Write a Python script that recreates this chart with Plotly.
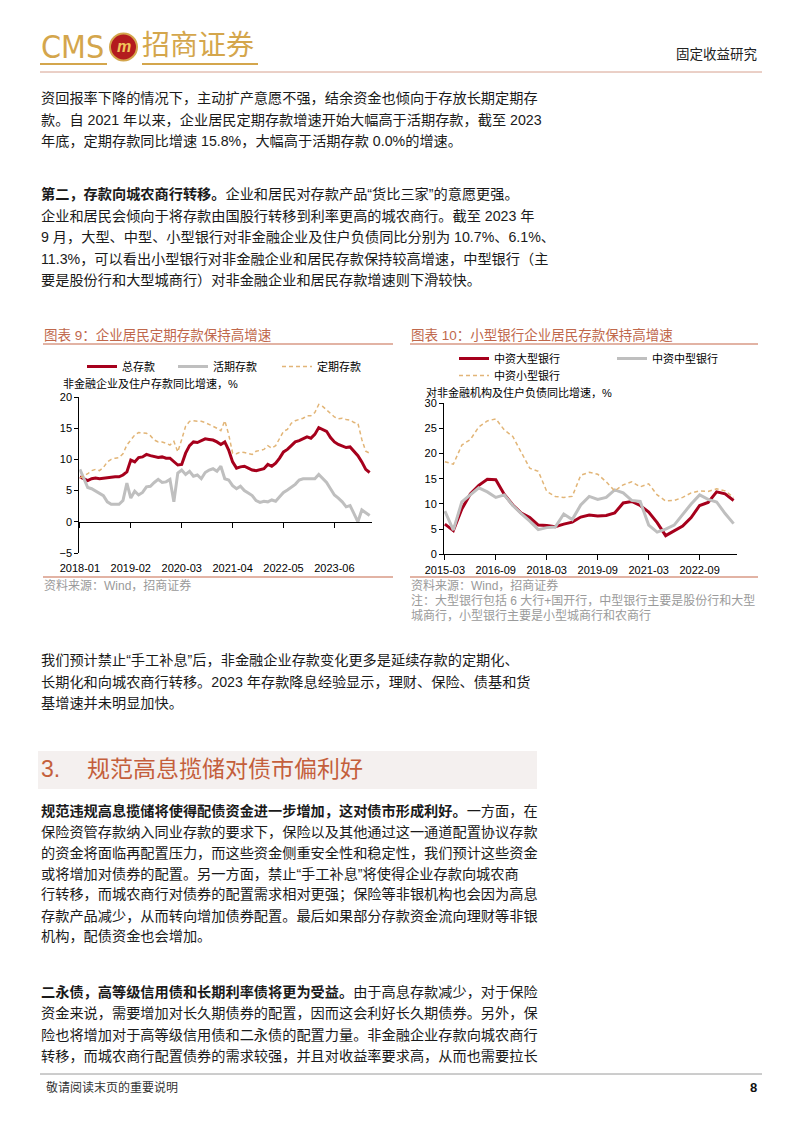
import plotly.graph_objects as go
import pandas as pd

W, H = 802, 1133

# ---------------- Chart 1 data (monthly, %) ----------------
months1 = pd.date_range("2018-01-01", periods=75, freq="MS").strftime("%Y-%m").tolist()
total_deposit = [7.2, 6.9, 6.6, 6.9, 7.0, 6.9, 7.0, 7.1, 7.1, 7.2,
                 7.2, 7.5, 8.0, 9.9, 9.6, 10.3, 10.4, 10.8, 10.6, 10.4,
                 10.3, 10.4, 10.2, 10.2, 9.7, 9.1, 9.2, 11.0, 12.2, 12.8,
                 12.7, 13.0, 13.3, 13.2, 13.1, 12.8, 12.4, 12.8, 11.5, 9.6,
                 8.6, 8.8, 8.9, 8.6, 8.3, 8.2, 8.3, 8.5, 9.2, 8.9,
                 9.4, 10.2, 11.2, 11.6, 12.2, 12.8, 13.0, 13.3, 13.6, 13.4,
                 14.0, 15.1, 14.8, 14.5, 13.5, 12.8, 12.4, 12.1, 11.9, 12.0,
                 11.3, 10.6, 9.6, 8.4, 7.9]
demand_deposit = [8.4, 6.9, 5.5, 5.3, 4.9, 4.6, 4.2, 3.2, 2.8, 2.8,
                  2.8, 3.4, 6.2, 3.8, 4.9, 4.3, 4.7, 5.6, 5.7, 6.3,
                  6.8, 6.3, 6.4, 6.8, 3.2, 7.8, 8.3, 7.6, 8.1, 7.3,
                  7.5, 6.9, 7.9, 8.3, 8.5, 8.1, 8.9, 6.9, 6.7, 5.8,
                  5.3, 5.7, 5.0, 4.6, 4.2, 3.4, 3.1, 3.3, 3.2, 3.5,
                  3.3, 4.0, 4.7, 5.1, 5.5, 6.0, 6.7, 6.9, 6.9, 6.9,
                  6.9, 7.6, 6.9, 6.3, 5.3, 4.3, 3.8, 3.2, 2.4, 2.6,
                  1.3, 0.0, 1.9, 1.5, 1.0]
time_deposit = [7.0, 7.3, 7.7, 8.2, 8.4, 8.2, 8.7, 9.6, 10.0, 10.2,
                10.3, 10.9, 12.3, 13.1, 13.9, 14.3, 14.3, 14.2, 13.8, 13.1,
                12.8, 12.8, 12.6, 12.3, 12.9, 11.2, 13.2, 15.3, 16.1, 16.2,
                16.1, 16.1, 15.9, 15.6, 15.4, 15.0, 14.6, 16.2, 14.0, 11.0,
                10.9, 11.2, 11.1, 11.0, 10.8, 11.3, 11.4, 11.6, 12.2, 11.8,
                12.2, 13.3, 14.5, 14.8, 15.8, 16.2, 16.4, 16.6, 17.0, 17.0,
                17.5, 18.8, 18.5, 17.9, 17.3, 16.8, 16.5, 16.6, 16.4, 16.3,
                15.9, 15.8, 13.2, 11.3, 11.0]
ticks1 = ["2018-01", "2019-02", "2020-03", "2021-04", "2022-05", "2023-06"]

# ---------------- Chart 2 data (quarterly, %) ----------------
quarters2 = pd.date_range("2015-03-01", periods=35, freq="3MS").strftime("%Y-%m").tolist()
large_bank = [6.0, 4.7, 9.0, 12.0, 13.7, 14.9, 14.8, 11.9, 9.8, 8.2,
              7.3, 5.8, 5.7, 5.5, 6.0, 6.4, 7.4, 7.8, 7.6, 7.7,
              8.2, 10.2, 10.5, 9.7, 8.4, 6.3, 3.7, 4.6, 5.6, 7.3,
              9.7, 10.3, 12.4, 12.0, 10.7]
medium_bank = [8.6, 4.8, 10.4, 11.9, 13.2, 12.4, 11.3, 11.8, 9.7, 8.1,
               6.6, 4.9, 5.3, 5.4, 8.0, 6.9, 9.8, 11.5, 10.9, 11.3,
               12.8, 12.2, 10.7, 10.5, 5.8, 4.4, 5.0, 5.8, 8.0, 10.0,
               11.8, 10.9, 10.4, 8.1, 6.1]
small_bank = [18.4, 17.9, 21.7, 22.8, 25.3, 26.5, 26.9, 24.7, 23.4, 20.2,
              17.1, 16.5, 12.5, 11.5, 11.3, 11.5, 15.7, 16.3, 15.9, 14.4,
              12.6, 13.8, 14.4, 13.4, 14.0, 11.8, 10.6, 10.7, 11.3, 12.2,
              12.6, 12.5, 13.0, 12.6, 11.3]
ticks2 = ["2015-03", "2016-09", "2018-03", "2019-09", "2021-03", "2022-09"]

# ---------------- helpers ----------------
def fx(p):
    return p / W

def fy(p):
    return 1 - p / H

SANS = "Liberation Sans, Noto Sans CJK SC, sans-serif"
RED = "#A6001C"
GRAY = "#BFBFBF"
GOLDLINE = "#E2B577"
TITLE_C = "#C0684C"
RULE_C = "#D99A86"
LOGO_GOLD = "#D4A64C"

fig = go.Figure()

# chart 1 traces
fig.add_trace(go.Scatter(x=months1, y=total_deposit, name="总存款", mode="lines",
                         line=dict(color=RED, width=3), xaxis="x", yaxis="y",
                         legend="legend", legendwidth=46))
fig.add_trace(go.Scatter(x=months1, y=demand_deposit, name="活期存款", mode="lines",
                         line=dict(color=GRAY, width=3), xaxis="x", yaxis="y",
                         legend="legend", legendwidth=59))
fig.add_trace(go.Scatter(x=months1, y=time_deposit, name="定期存款", mode="lines",
                         line=dict(color=GOLDLINE, width=1.5, dash="4px,3px"),
                         xaxis="x", yaxis="y", legend="legend"))
fig.add_trace(go.Scatter(x=months1, y=[None] * len(months1), mode="lines",
                         xaxis="x3", yaxis="y", showlegend=False, hoverinfo="skip"))

# chart 2 traces
fig.add_trace(go.Scatter(x=quarters2, y=large_bank, name="中资大型银行", mode="lines",
                         line=dict(color=RED, width=3), xaxis="x2", yaxis="y2",
                         legend="legend2", legendwidth=113))
fig.add_trace(go.Scatter(x=quarters2, y=medium_bank, name="中资中型银行", mode="lines",
                         line=dict(color=GRAY, width=3), xaxis="x2", yaxis="y2",
                         legend="legend2"))
fig.add_trace(go.Scatter(x=quarters2, y=small_bank, name="中资小型银行", mode="lines",
                         line=dict(color=GOLDLINE, width=1.5, dash="4px,3px"),
                         xaxis="x2", yaxis="y2", legend="legend3"))

tickfont = dict(size=11, family=SANS, color="#000")
c1_x = [fx(79.3), fx(372)]
c1_y = [fy(553), fy(397)]
c2_x = [fx(444), fx(737)]
c2_y = [fy(554.3), fy(403.3)]

legend_common = dict(orientation="h", xanchor="left", yanchor="top",
                      font=dict(size=11, family=SANS, color="#000"),
                      bgcolor="rgba(0,0,0,0)", itemwidth=30, tracegroupgap=0,
                      itemclick=False, itemdoubleclick=False)

axis_common = dict(showgrid=False, zeroline=False, fixedrange=True, automargin=False)

fig.update_layout(
    width=W, height=H, margin=dict(l=0, r=0, t=0, b=0, autoexpand=False),
    paper_bgcolor="white", plot_bgcolor="white", showlegend=True,
    xaxis=dict(domain=c1_x, type="category", categoryorder="array", categoryarray=months1,
               range=[-0.15, 74.6], anchor="free", position=fy(521.8),
               showline=True, linecolor="#000", linewidth=1, ticks="outside", ticklen=5,
               tickcolor="#000", tickvals=ticks1, showticklabels=False, **axis_common),
    xaxis3=dict(overlaying="x", anchor="y", side="bottom", type="category",
                categoryorder="array", categoryarray=months1, range=[-0.15, 74.6],
                tickvals=ticks1, ticktext=ticks1, showline=False, ticks="outside",
                ticklen=5, tickcolor="rgba(0,0,0,0)", tickfont=tickfont, **axis_common),
    yaxis=dict(domain=c1_y, anchor="x", range=[-5, 20], tickvals=[-5, 0, 5, 10, 15, 20],
               showline=True, linecolor="#000", linewidth=1, ticks="outside", ticklen=4,
               tickcolor="#000", tickfont=tickfont, **axis_common),
    xaxis2=dict(domain=c2_x, anchor="y2", type="category", categoryorder="array",
                categoryarray=quarters2, range=[-0.1, 34.4], tickvals=ticks2, ticktext=ticks2,
                showline=True, linecolor="#000", linewidth=1, ticks="outside", ticklen=5,
                tickcolor="#000", tickfont=tickfont, **axis_common),
    yaxis2=dict(domain=c2_y, anchor="x2", range=[0, 30], tickvals=[0, 5, 10, 15, 20, 25, 30],
                showline=True, linecolor="#000", linewidth=1, ticks="outside", ticklen=4,
                tickcolor="#000", tickfont=tickfont, **axis_common),
    legend=dict(x=fx(82), y=fy(352), **legend_common),
    legend2=dict(x=fx(454), y=fy(344), **legend_common),
    legend3=dict(x=fx(454), y=fy(361), **legend_common),
)

# ---------------- shapes ----------------
def hline(x0, x1, y, color, width=1):
    fig.add_shape(type="line", xref="paper", yref="paper", x0=fx(x0), x1=fx(x1),
                  y0=fy(y), y1=fy(y), line=dict(color=color, width=width))

hline(40, 762, 72, "#D6A08E", 1)          # header rule
hline(40, 107, 64, LOGO_GOLD, 2)          # logo underline CMS
hline(142, 258, 64, LOGO_GOLD, 2)         # logo underline 招商证券
fig.add_shape(type="circle", xref="paper", yref="paper",
              x0=fx(110), x1=fx(137), y0=fy(60.5), y1=fy(33.5),
              fillcolor="#B31B1E", line=dict(color=LOGO_GOLD, width=2))
hline(43, 393, 344, RULE_C, 1.5)          # chart 1 title rule
hline(410, 758, 344, RULE_C, 1.5)         # chart 2 title rule
hline(43, 393, 577, RULE_C, 1.5)          # chart 1 bottom rule
hline(410, 758, 577, RULE_C, 1.5)         # chart 2 bottom rule
fig.add_shape(type="rect", xref="paper", yref="paper", x0=fx(38), x1=fx(537),
              y0=fy(789), y1=fy(751), fillcolor="#F4F0EF", line=dict(width=0), layer="below")
hline(40, 762, 1074, "#9A9A9A", 1)        # footer rule

# ---------------- text ----------------
def text(x, y, s, size=14.2, color="#1a1a1a", anchor="left", family=SANS):
    fig.add_annotation(x=fx(x), y=fy(y), xref="paper", yref="paper", text=s,
                       showarrow=False, xanchor=anchor, yanchor="middle", align="left",
                       font=dict(size=size, color=color, family=family), borderpad=0)

# header
text(40, 47, "CMS", size=32, color=LOGO_GOLD,
     family="Liberation Sans Narrow, DejaVu Sans Condensed, Liberation Sans")
text(123.5, 47, "<b><i>m</i></b>", size=16, color="#F2C45A", anchor="center")
text(141, 46, "招商证券", size=28, color=LOGO_GOLD)
text(758, 55, "固定收益研究", size=13.5, color="#222", anchor="right")

# paragraph 1
p1 = ["资回报率下降的情况下，主动扩产意愿不强，结余资金也倾向于存放长期定期存",
      "款。自 2021 年以来，企业居民定期存款增速开始大幅高于活期存款，截至 2023",
      "年底，定期存款同比增速 15.8%，大幅高于活期存款 0.0%的增速。"]
for i, s in enumerate(p1):
    text(40, 98 + 21.5 * i, s)

p2 = ["<b>第二，存款向城农商行转移。</b>企业和居民对存款产品“货比三家”的意愿更强。",
      "企业和居民会倾向于将存款由国股行转移到利率更高的城农商行。截至 2023 年",
      "9 月，大型、中型、小型银行对非金融企业及住户负债同比分别为 10.7%、6.1%、",
      "11.3%，可以看出小型银行对非金融企业和居民存款保持较高增速，中型银行（主",
      "要是股份行和大型城商行）对非金融企业和居民存款增速则下滑较快。"]
for i, s in enumerate(p2):
    text(40, 194 + 21.5 * i, s)

# chart titles / captions
text(43, 335, "图表 9：企业居民定期存款保持高增速", size=13.5, color=TITLE_C)
text(410, 335, "图表 10：小型银行企业居民存款保持高增速", size=13.5, color=TITLE_C)
text(62, 383, "非金融企业及住户存款同比增速，%", size=11, color="#000")
text(425, 392, "对非金融机构及住户负债同比增速，%", size=11, color="#000")
text(43, 585, "资料来源：Wind，招商证券", size=12, color="#9A9A9A")
text(410, 585, "资料来源：Wind，招商证券", size=12, color="#9A9A9A")
text(410, 600.5, "注：大型银行包括 6 大行+国开行，中型银行主要是股份行和大型", size=12, color="#9A9A9A")
text(410, 615.5, "城商行，小型银行主要是小型城商行和农商行", size=12, color="#9A9A9A")

p3 = ["我们预计禁止“手工补息”后，非金融企业存款变化更多是延续存款的定期化、",
      "长期化和向城农商行转移。2023 年存款降息经验显示，理财、保险、债基和货",
      "基增速并未明显加快。"]
for i, s in enumerate(p3):
    text(40, 660 + 21.5 * i, s)

# section heading
text(40, 769, "3.", size=23, color="#C45F3C")
text(86, 769, "规范高息揽储对债市偏利好", size=23, color="#C45F3C")

p4 = ["<b>规范违规高息揽储将使得配债资金进一步增加，这对债市形成利好。</b>一方面，在",
      "保险资管存款纳入同业存款的要求下，保险以及其他通过这一通道配置协议存款",
      "的资金将面临再配置压力，而这些资金侧重安全性和稳定性，我们预计这些资金",
      "或将增加对债券的配置。另一方面，禁止“手工补息”将使得企业存款向城农商",
      "行转移，而城农商行对债券的配置需求相对更强；保险等非银机构也会因为高息",
      "存款产品减少，从而转向增加债券配置。最后如果部分存款资金流向理财等非银",
      "机构，配债资金也会增加。"]
for i, s in enumerate(p4):
    text(40, 811 + 20.9 * i, s)

p5 = ["<b>二永债，高等级信用债和长期利率债将更为受益。</b>由于高息存款减少，对于保险",
      "资金来说，需要增加对长久期债券的配置，因而这会利好长久期债券。另外，保",
      "险也将增加对于高等级信用债和二永债的配置力量。非金融企业存款向城农商行",
      "转移，而城农商行配置债券的需求较强，并且对收益率要求高，从而也需要拉长"]
for i, s in enumerate(p5):
    text(40, 992 + 21.3 * i, s)

# footer
text(45, 1087, "敬请阅读末页的重要说明", size=12, color="#333")
text(758, 1087, "<b>8</b>", size=13, color="#111", anchor="right")

fig.write_html("out.html", config={"displayModeBar": False},
               post_script="document.body.style.margin='0px';")
